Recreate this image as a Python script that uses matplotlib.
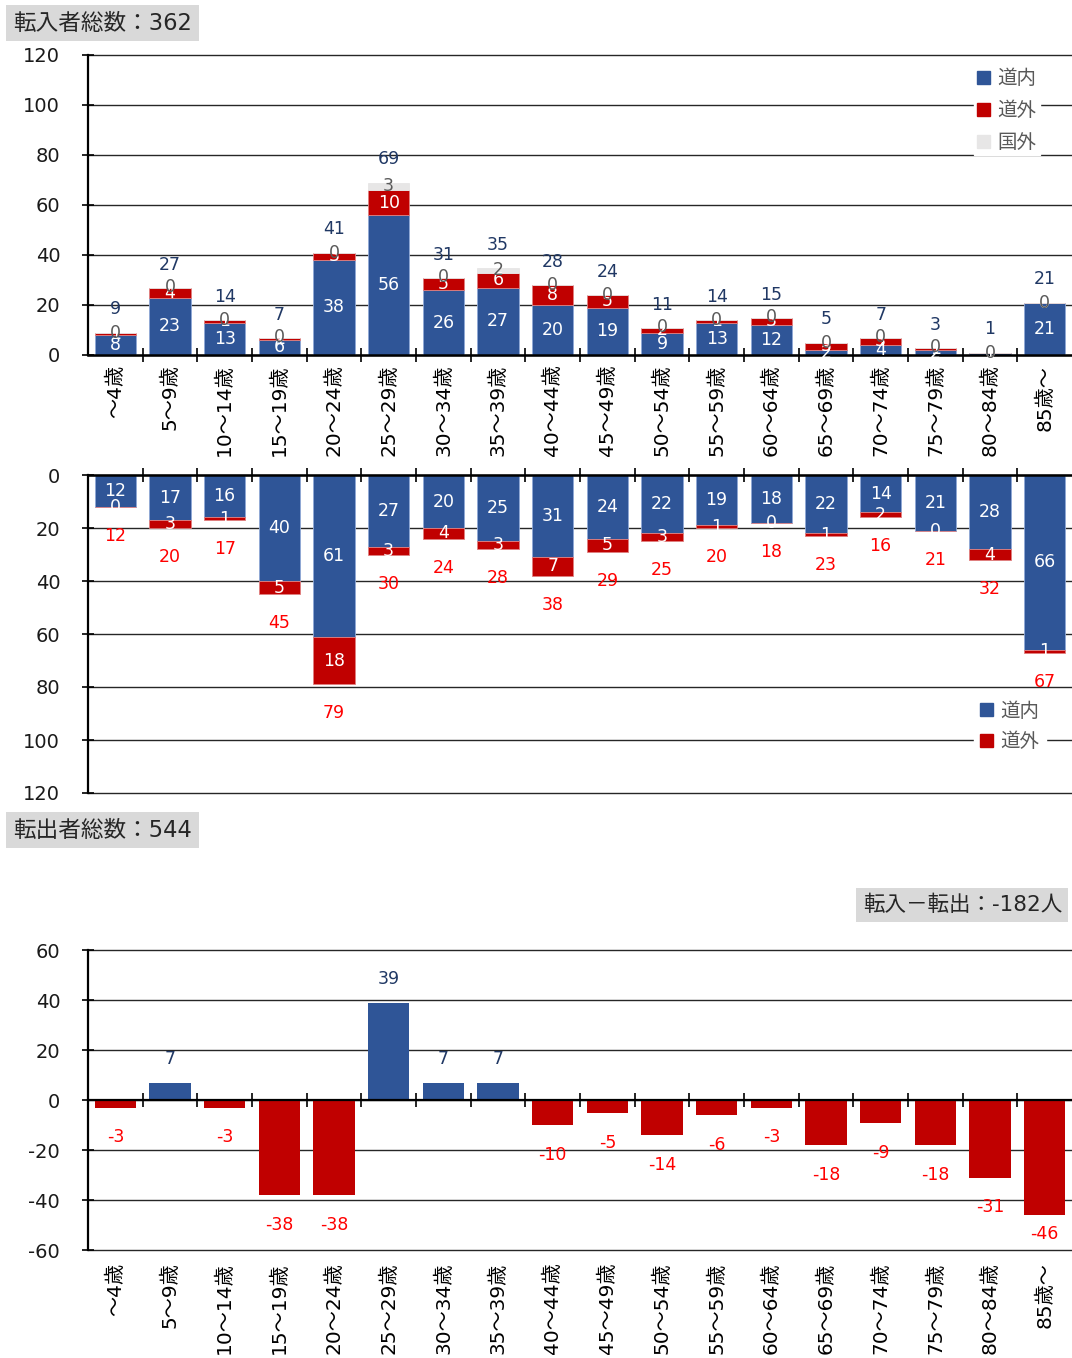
import matplotlib
matplotlib.use('Agg')
import matplotlib.pyplot as plt
from matplotlib.patches import Patch
import numpy as np

plt.rcParams['font.family'] = ['DejaVu Sans', 'Noto Sans CJK JP']
plt.rcParams['axes.unicode_minus'] = False

# 年齢区分
ages = ['～4歳', '5～9歳', '10～14歳', '15～19歳', '20～24歳', '25～29歳',
        '30～34歳', '35～39歳', '40～44歳', '45～49歳', '50～54歳', '55～59歳',
        '60～64歳', '65～69歳', '70～74歳', '75～79歳', '80～84歳', '85歳～']

# 転入
in_dounai = [8, 23, 13, 6, 38, 56, 26, 27, 20, 19, 9, 13, 12, 2, 4, 2, 1, 21]
in_dougai = [1, 4, 1, 1, 3, 10, 5, 6, 8, 5, 2, 1, 3, 3, 3, 1, 0, 0]
in_kokugai = [0, 0, 0, 0, 0, 3, 0, 2, 0, 0, 0, 0, 0, 0, 0, 0, 0, 0]
in_total = [9, 27, 14, 7, 41, 69, 31, 35, 28, 24, 11, 14, 15, 5, 7, 3, 1, 21]

# 転出
out_dounai = [12, 17, 16, 40, 61, 27, 20, 25, 31, 24, 22, 19, 18, 22, 14, 21, 28, 66]
out_dougai = [0, 3, 1, 5, 18, 3, 4, 3, 7, 5, 3, 1, 0, 1, 2, 0, 4, 1]
out_total = [12, 20, 17, 45, 79, 30, 24, 28, 38, 29, 25, 20, 18, 23, 16, 21, 32, 67]

# 転入－転出
net = [-3, 7, -3, -38, -38, 39, 7, 7, -10, -5, -14, -6, -3, -18, -9, -18, -31, -46]

BLUE = '#2F5597'
RED = '#C00000'
GRAY = '#E7E6E6'
NAVY = '#203864'
LBL_RED = '#FF0000'

W, H = 1072, 1358
fig = plt.figure(figsize=(W / 100, H / 100), dpi=100)


def ax_rect(top_px, bottom_px):
    return [88 / W, 1 - bottom_px / H, 984 / W, (bottom_px - top_px) / H]


def style_axes(ax):
    x = np.arange(len(ages))
    ax.set_xlim(-0.5, len(ages) - 0.5)
    ax.set_xticks(x)
    ax.set_xticks(x[:-1] + 0.5, minor=True)
    ax.tick_params(axis='x', which='major', length=0, labelsize=14.5, pad=7,
                   labelrotation=90)
    ax.tick_params(axis='y', which='major', direction='inout', length=8,
                   width=1.2, labelsize=14, pad=16, labelcolor='#1a1a1a')
    ax.grid(axis='y', color='#262626', linewidth=1.0)
    ax.set_axisbelow(True)
    ax.spines['right'].set_visible(False)
    ax.spines['left'].set_linewidth(1.6)


def unclip_grid(ax):
    for ln in ax.get_ygridlines():
        ln.set_clip_on(False)


def legend_gray(leg):
    for t in leg.get_texts():
        t.set_color('#595959')


x = np.arange(len(ages))
bw = 0.76

# ---- 転入 ----
ax1 = fig.add_axes(ax_rect(55, 355))
style_axes(ax1)
b1 = np.array(in_dounai)
b2 = b1 + np.array(in_dougai)
ax1.bar(x, in_dounai, bw, color=BLUE, edgecolor='#8FA8D6', linewidth=0.6, zorder=2)
ax1.bar(x, in_dougai, bw, bottom=b1, color=RED, edgecolor='#E08080', linewidth=0.6, zorder=2)
ax1.bar(x, in_kokugai, bw, bottom=b2, color=GRAY, edgecolor=GRAY, linewidth=0.6, zorder=2)
for i in range(len(ages)):
    ax1.text(x[i], in_dounai[i] / 2, str(in_dounai[i]), ha='center', va='center',
             color='white', fontsize=12.5, zorder=3)
    ax1.text(x[i], b1[i] + in_dougai[i] / 2, str(in_dougai[i]), ha='center', va='center',
             color='white', fontsize=12.5, zorder=3)
    ax1.text(x[i], b2[i] + in_kokugai[i] / 2, str(in_kokugai[i]), ha='center', va='center',
             color='#595959', fontsize=12.5, zorder=3)
    ax1.annotate(str(in_total[i]), (x[i], in_total[i]), xytext=(0, 23),
                 textcoords='offset pixels', ha='center', va='center',
                 color=NAVY, fontsize=12.5)
ax1.set_ylim(0, 120)
ax1.set_yticks(range(0, 121, 20))
ax1.set_xticklabels(ages)
ax1.spines['top'].set_visible(False)
ax1.spines['bottom'].set_linewidth(1.8)
ax1.tick_params(axis='x', which='minor', direction='inout', length=10, width=1.2,
                bottom=True, top=False)
unclip_grid(ax1)
leg1 = ax1.legend(handles=[Patch(color=BLUE, label='道内'), Patch(color=RED, label='道外'),
                           Patch(color=GRAY, label='国外')],
                  loc='upper right', bbox_to_anchor=(0.977, 0.994), frameon=True,
                  facecolor='white', edgecolor='white', fancybox=False, framealpha=1,
                  fontsize=14, handlelength=0.65, handleheight=0.65, handletextpad=0.4,
                  labelspacing=0.66, borderpad=0.15)
legend_gray(leg1)

# ---- 転出 ----
ax2 = fig.add_axes(ax_rect(475, 793))
style_axes(ax2)
o1 = np.array(out_dounai)
ax2.bar(x, out_dounai, bw, color=BLUE, edgecolor='#8FA8D6', linewidth=0.6, zorder=2)
ax2.bar(x, out_dougai, bw, bottom=o1, color=RED, edgecolor='#E08080', linewidth=0.6, zorder=2)
for i in range(len(ages)):
    ax2.text(x[i], out_dounai[i] / 2, str(out_dounai[i]), ha='center', va='center',
             color='white', fontsize=12.5, zorder=3)
    ax2.text(x[i], o1[i] + out_dougai[i] / 2, str(out_dougai[i]), ha='center', va='center',
             color='white', fontsize=12.5, zorder=3)
    ax2.annotate(str(out_total[i]), (x[i], out_total[i]), xytext=(0, -29),
                 textcoords='offset pixels', ha='center', va='center',
                 color=LBL_RED, fontsize=12.5)
ax2.set_ylim(120, 0)
ax2.set_yticks(range(0, 121, 20))
ax2.set_xticklabels([])
ax2.spines['bottom'].set_visible(False)
ax2.spines['top'].set_linewidth(1.8)
ax2.tick_params(axis='x', which='minor', direction='inout', length=10, width=1.2,
                bottom=False, top=True)
unclip_grid(ax2)
leg2 = ax2.legend(handles=[Patch(color=BLUE, label='道内'), Patch(color=RED, label='道外')],
                  loc='center right', bbox_to_anchor=(0.983, 0.21), frameon=True,
                  facecolor='white', edgecolor='white', fancybox=False, framealpha=1,
                  fontsize=14, handlelength=0.65, handleheight=0.65, handletextpad=0.4,
                  labelspacing=0.58, borderpad=0.3)
legend_gray(leg2)

# ---- 転入－転出 ----
ax3 = fig.add_axes(ax_rect(950, 1250))
style_axes(ax3)
cols = [BLUE if v > 0 else RED for v in net]
ax3.bar(x, net, bw, color=cols, zorder=2)
for i, v in enumerate(net):
    if v > 0:
        ax3.annotate(str(v), (x[i], v), xytext=(0, 24), textcoords='offset pixels',
                     ha='center', va='center', color=NAVY, fontsize=12.5)
    else:
        # 下端の目盛線に重ならないようにする
        off = -30 if v > -42 else -19
        ax3.annotate(str(v), (x[i], v), xytext=(0, off), textcoords='offset pixels',
                     ha='center', va='center', color=LBL_RED, fontsize=12.5)
ax3.set_ylim(-60, 60)
ax3.set_yticks(range(-60, 61, 20))
ax3.set_xticklabels(ages)
ax3.spines['bottom'].set_visible(False)
ax3.spines['top'].set_position(('data', 0))
ax3.spines['top'].set_linewidth(1.6)
ax3.tick_params(axis='x', which='minor', direction='inout', length=10, width=1.2,
                bottom=False, top=True)
ax3.tick_params(axis='x', which='major', pad=9)
unclip_grid(ax3)

# タイトルボックス
box = dict(boxstyle='square,pad=0.3', facecolor='#D9D9D9', edgecolor='none')
fig.text(13 / W, 1 - 23 / H, '転入者総数：362', fontsize=16.3, ha='left', va='center',
         color='#262626', bbox=box)
fig.text(13 / W, 1 - 830 / H, '転出者総数：544', fontsize=16.3, ha='left', va='center',
         color='#262626', bbox=box)
fig.text(1 - 10 / W, 1 - 905 / H, '転入－転出：-182人', fontsize=15.5, ha='right', va='center',
         color='#262626', bbox=box)

fig.savefig('out.png', dpi=100)
